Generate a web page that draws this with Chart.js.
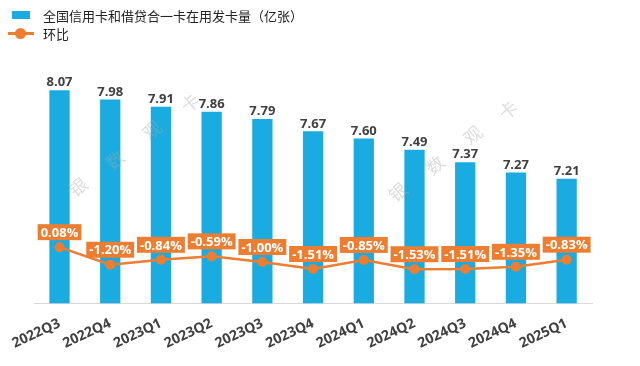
<!DOCTYPE html>
<html>
<head>
<meta charset="utf-8">
<script src="https://cdn.jsdelivr.net/npm/chart.js@4"></script>
<style>
  html, body { margin: 0; padding: 0; background: #fff; }
  #wrap { position: relative; width: 640px; height: 366px; }
  #legend { position: absolute; left: 8px; top: 6px; font: 13px "Noto Sans CJK SC", sans-serif; color: #222; }
  .item { display: flex; align-items: center; height: 18px; }
  .swatch { width: 26px; display: flex; justify-content: center; align-items: center; margin-right: 9px; position: relative; }
  .box { width: 18px; height: 8px; background: #1AACE0; }
  .ln { width: 26px; height: 3px; background: #ED7D31; }
  .dot { position: absolute; width: 11px; height: 11px; border-radius: 50%; background: #ED7D31; left: 7px; top: -4px; }
</style>
</head>
<body>
<div id="wrap">
  <canvas id="c" width="640" height="366"></canvas>
  <div id="legend">
    <div class="item"><span class="swatch"><span class="box"></span></span>全国信用卡和借贷合一卡在用发卡量（亿张）</div>
    <div class="item"><span class="swatch"><span class="ln"></span><span class="dot"></span></span>环比</div>
  </div>
</div>
<script>
const quarters = ['2022Q3', '2022Q4', '2023Q1', '2023Q2', '2023Q3', '2023Q4', '2024Q1', '2024Q2', '2024Q3', '2024Q4', '2025Q1'];
const cardCount = [8.07, 7.98, 7.91, 7.86, 7.79, 7.67, 7.60, 7.49, 7.37, 7.27, 7.21];
const qoqChange = [0.08, -1.20, -0.84, -0.59, -1.00, -1.51, -0.85, -1.53, -1.51, -1.35, -0.83];

const blue = '#1AACE0';
const orange = '#ED7D31';
const font = '"Open Sans", "Noto Sans CJK SC", sans-serif';

// value labels + faint watermark
const labels = {
  id: 'labels',
  afterDatasetsDraw(chart) {
    const ctx = chart.ctx;
    ctx.save();
    ctx.font = '18px "Noto Sans CJK SC", sans-serif';
    ctx.fillStyle = 'rgba(170,170,170,0.4)';
    ctx.textAlign = 'center';
    ctx.textBaseline = 'middle';
    const marks = [[78, 187, '银'], [115, 160, '数'], [152, 130, '观'], [190, 103, '卡'],
                   [398, 192, '银'], [435, 165, '数'], [473, 135, '观'], [508, 110, '卡']];
    marks.forEach(([x, y, t]) => {
      ctx.save(); ctx.translate(x, y); ctx.rotate(-0.7); ctx.fillText(t, 0, 0); ctx.restore();
    });

    ctx.font = 'bold 13px ' + font;
    ctx.textAlign = 'center';
    ctx.textBaseline = 'bottom';
    ctx.fillStyle = '#404040';
    chart.getDatasetMeta(1).data.forEach((bar, i) => {
      ctx.fillText(cardCount[i].toFixed(2), bar.x, bar.y - 1);
    });

    ctx.textBaseline = 'middle';
    chart.getDatasetMeta(0).data.forEach((pt, i) => {
      const txt = qoqChange[i].toFixed(2) + '%';
      const w = ctx.measureText(txt).width + 6;
      const cy = pt.y - 15;
      ctx.fillStyle = orange;
      ctx.fillRect(pt.x - w / 2, cy - 8, w, 16);
      ctx.fillStyle = '#fff';
      ctx.fillText(txt, pt.x, cy + 1);
    });
    ctx.restore();
  }
};

new Chart(document.getElementById('c'), {
  data: {
    labels: quarters,
    datasets: [{
      type: 'line',
      label: '环比',
      data: qoqChange,
      yAxisID: 'y1',
      borderColor: orange,
      backgroundColor: orange,
      borderWidth: 2.5,
      pointRadius: 5,
      pointBackgroundColor: orange,
      pointBorderWidth: 0,
      tension: 0
    }, {
      type: 'bar',
      label: '全国信用卡和借贷合一卡在用发卡量（亿张）',
      data: cardCount,
      yAxisID: 'y',
      backgroundColor: blue,
      categoryPercentage: 1,
      barPercentage: 0.4
    }]
  },
  options: {
    responsive: false,
    animation: false,
    layout: { padding: { top: 48, left: 25, right: 48, bottom: 2 } },
    plugins: { legend: { display: false }, tooltip: { enabled: false } },
    scales: {
      x: {
        grid: { display: false, drawTicks: false },
        border: { color: '#d9d9d9', width: 1 },
        ticks: {
          minRotation: 25, maxRotation: 25, padding: 12,
          color: '#404040', font: { family: font, size: 14, weight: 'bold' }
        }
      },
      y: { display: false, min: 6, max: 8.48 },
      y1: { display: false, min: -4, max: 14.6 }
    }
  },
  plugins: [labels]
});
</script>
</body>
</html>
